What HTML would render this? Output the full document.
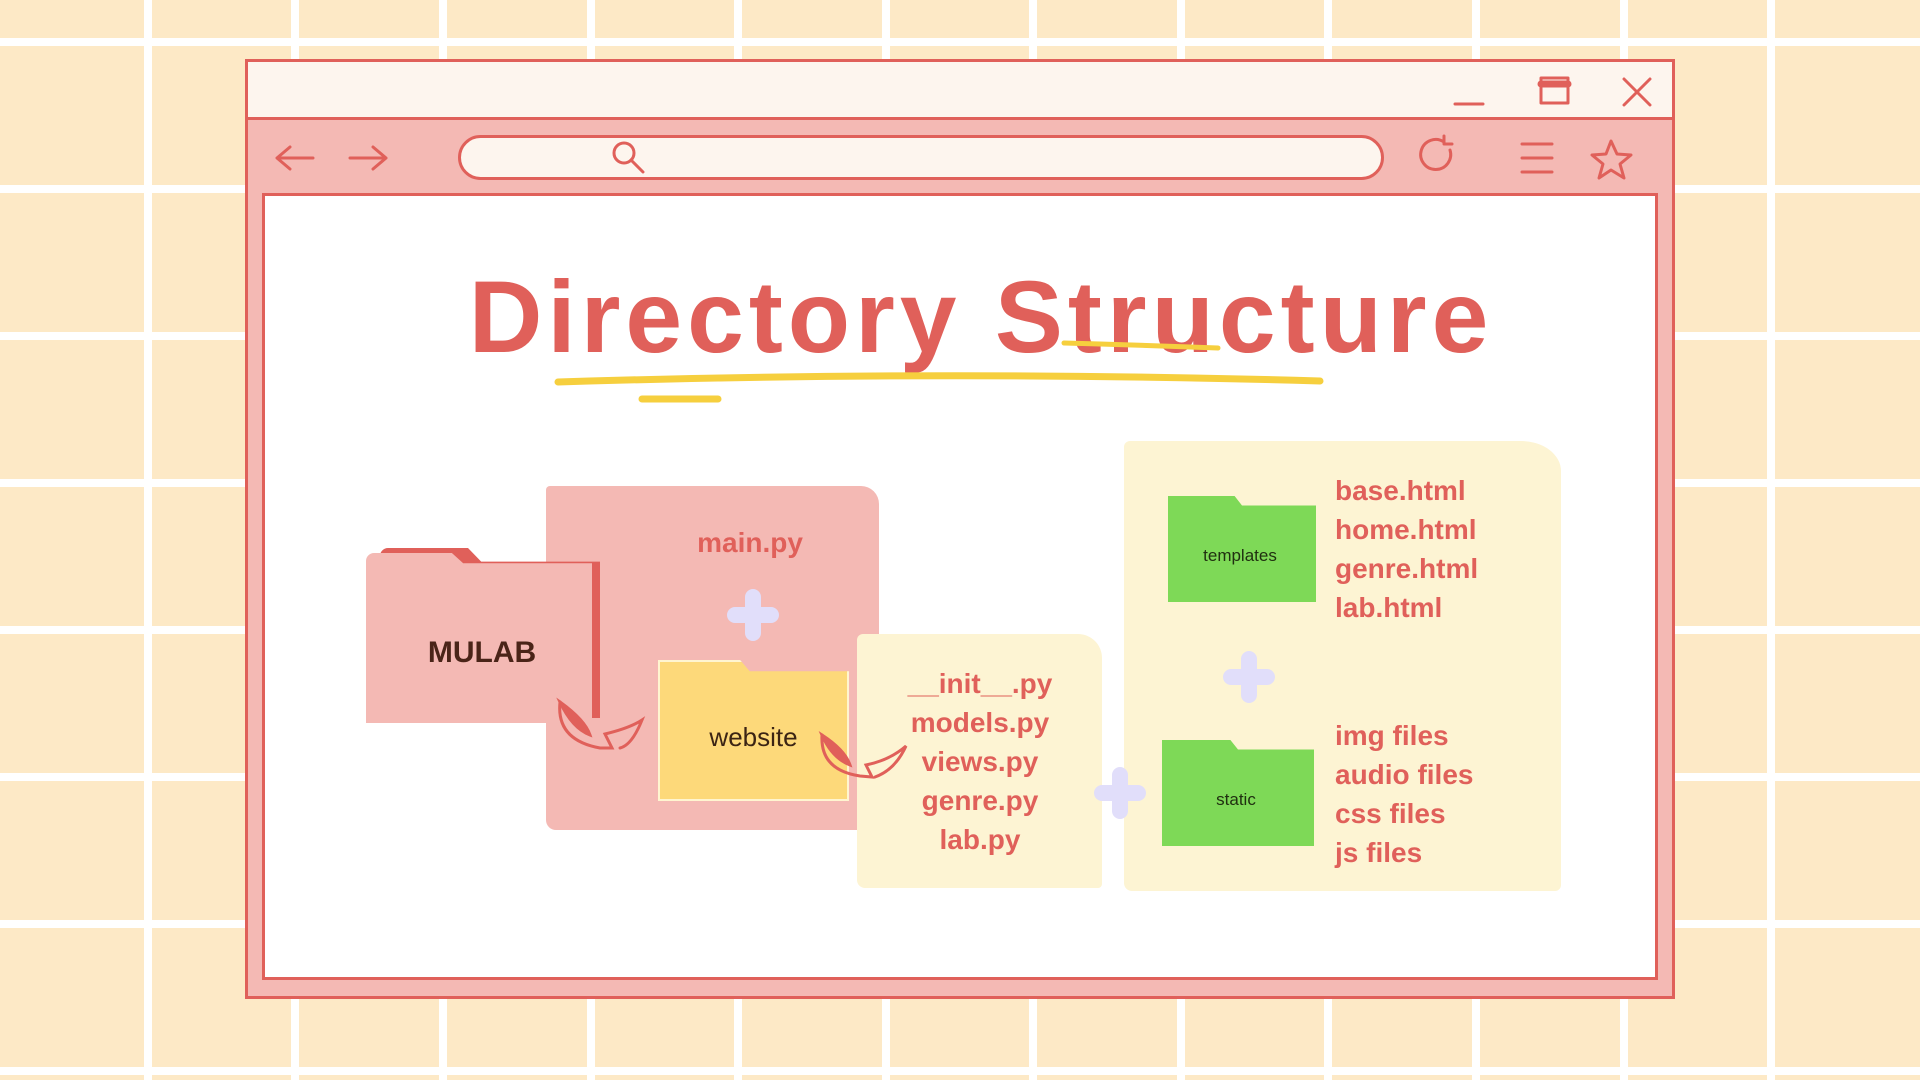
<!DOCTYPE html>
<html><head><meta charset="utf-8"><style>
*{margin:0;padding:0;box-sizing:border-box}
body{width:1920px;height:1080px;position:relative;overflow:hidden;background:#fde9c6;font-family:"Liberation Sans",sans-serif}
.vl{position:absolute;top:0;width:8px;height:1080px;background:#fff}
.hl{position:absolute;left:0;height:8px;width:1920px;background:#fff}
.a{position:absolute}
.t{position:absolute;color:#e0605a;font-size:28px;font-weight:bold;white-space:nowrap}
</style></head><body>
<div class="vl" style="left:144px"></div><div class="vl" style="left:291px"></div><div class="vl" style="left:439px"></div><div class="vl" style="left:587px"></div><div class="vl" style="left:734px"></div><div class="vl" style="left:882px"></div><div class="vl" style="left:1029px"></div><div class="vl" style="left:1177px"></div><div class="vl" style="left:1324px"></div><div class="vl" style="left:1472px"></div><div class="vl" style="left:1620px"></div><div class="vl" style="left:1767px"></div>
<div class="hl" style="top:38px"></div><div class="hl" style="top:185px"></div><div class="hl" style="top:332px"></div><div class="hl" style="top:479px"></div><div class="hl" style="top:626px"></div><div class="hl" style="top:773px"></div><div class="hl" style="top:920px"></div><div class="hl" style="top:1067px"></div>

<div class="a" style="left:245px;top:59px;width:1430px;height:940px;background:#f4b9b4;border:3px solid #e0605a"></div>
<div class="a" style="left:248px;top:62px;width:1424px;height:58px;background:#fdf5ee;border-bottom:3px solid #e0605a"></div>
<div class="a" style="left:262px;top:193px;width:1396px;height:787px;background:#fff;border:3px solid #e0605a"></div>
<div class="a" style="left:458px;top:135px;width:926px;height:45px;background:#fdf5ee;border:3px solid #e0605a;border-radius:23px"></div>

<svg class="a" style="left:0;top:0" width="1920" height="1080" fill="none" stroke="#e0605a" stroke-width="3" stroke-linecap="round" stroke-linejoin="round">
<path d="M277 158h36M290 147l-13 11 13 11"/>
<path d="M350 158h36M373 147l13 11-13 11"/>
<circle cx="624" cy="153" r="10"/><path d="M631 160l12 12"/>
<path d="M1450 150a15 15 0 1 1-6-8M1444 136v8h8"/>
<path d="M1522 144h30M1522 158h30M1522 172h30"/>
<path d="M1611 141l6 13 14 1-11 9 4 14-13-8-12 8 4-14-11-9 14-1z"/>
<path d="M1455 104h28"/>
<rect x="1541" y="78" width="27" height="25"/><path d="M1541 84h27" stroke-width="7"/>
<path d="M1624 79l26 26M1650 79l-26 26"/>
</svg>

<div class="a" style="left:0;top:259px;width:1962px;text-align:center;color:#e0605a;font-size:102px;font-weight:bold;letter-spacing:5px">Directory Structure</div>
<svg class="a" style="left:0;top:0" width="1920" height="1080" fill="none" stroke="#f6cf3e" stroke-linecap="round">
<path d="M558 382 Q940 370 1320 381" stroke-width="7"/>
<path d="M642 399h76" stroke-width="7"/>
<path d="M1064 343 Q1140 345 1218 348" stroke-width="5"/>
</svg>

<div class="a" style="left:546px;top:486px;width:333px;height:344px;background:#f4b9b4;border-radius:4px 18px 4px 10px"></div>
<div class="a" style="left:380px;top:548px;width:220px;height:170px;background:#e0605a;border-radius:8px 8px 0 0;clip-path:polygon(0 0,40% 0,46% 8%,100% 8%,100% 100%,0 100%)"></div>
<div class="a" style="left:366px;top:553px;width:226px;height:170px;background:#f4b9b4;border-radius:8px 8px 0 0;clip-path:polygon(0 0,38% 0,43% 6%,100% 6%,100% 100%,0 100%)"></div>
<div class="t" style="left:366px;top:636px;width:232px;text-align:center;color:#4a2418;font-size:30px">MULAB</div>
<div class="t" style="left:640px;top:527px;width:220px;text-align:center;font-weight:600;font-size:28px">main.py</div>
<div class="a" style="left:658px;top:660px;width:191px;height:141px;background:#fdd97a;border:2px solid #fff5d0;clip-path:polygon(0 0,43% 0,48% 8%,100% 8%,100% 100%,0 100%)"></div>
<div class="t" style="left:658px;top:722px;width:191px;text-align:center;color:#3b2414;font-size:26px;font-weight:normal">website</div>

<div class="a" style="left:857px;top:634px;width:245px;height:254px;background:#fdf4d3;border-radius:6px 24px 4px 8px"></div>
<div class="t" style="left:860px;top:664px;width:240px;text-align:center;line-height:39px;font-weight:600">__init__.py<br>models.py<br>views.py<br>genre.py<br>lab.py</div>

<div class="a" style="left:1124px;top:441px;width:437px;height:450px;background:#fdf4d3;border-radius:6px 40px 6px 8px / 6px 30px 6px 8px"></div>
<div class="a" style="left:1168px;top:496px;width:148px;height:106px;background:#7ed957;clip-path:polygon(0 0,45% 0,50% 9%,100% 9%,100% 100%,0 100%)"></div>
<div class="a" style="left:1168px;top:546px;width:144px;text-align:center;font-size:17px;color:#203010">templates</div>
<div class="a" style="left:1162px;top:740px;width:152px;height:106px;background:#7ed957;clip-path:polygon(0 0,45% 0,50% 9%,100% 9%,100% 100%,0 100%)"></div>
<div class="a" style="left:1162px;top:790px;width:148px;text-align:center;font-size:17px;color:#203010">static</div>
<div class="t" style="left:1335px;top:471px;line-height:39px;font-weight:600">base.html<br>home.html<br>genre.html<br>lab.html</div>
<div class="t" style="left:1335px;top:716px;line-height:39px;font-weight:600">img files<br>audio files<br>css files<br>js files</div>

<svg class="a" style="left:0;top:0" width="1920" height="1080" stroke="#e1defa" stroke-width="16" stroke-linecap="round">
<path d="M753 597v36M735 615h36"/>
<path d="M1249 659v36M1231 677h36"/>
<path d="M1120 775v36M1102 793h36"/>
</svg>
<svg class="a" style="left:0;top:0" width="1920" height="1080" fill="none" stroke="#e0605a" stroke-width="3" stroke-linecap="round">
<path d="M560 702 Q556 740 600 748 L612 748 L605 734 Q630 728 642 720 Q632 745 620 748"/>
<path d="M560 702 Q585 720 590 735 Q572 728 560 702z" fill="#e0605a"/>
<path d="M822 735 Q820 770 860 776 L872 777 L866 765 Q890 760 906 746 Q895 770 875 777"/>
<path d="M822 735 Q845 750 850 765 Q832 758 822 735z" fill="#e0605a"/>
</svg>
</body></html>
